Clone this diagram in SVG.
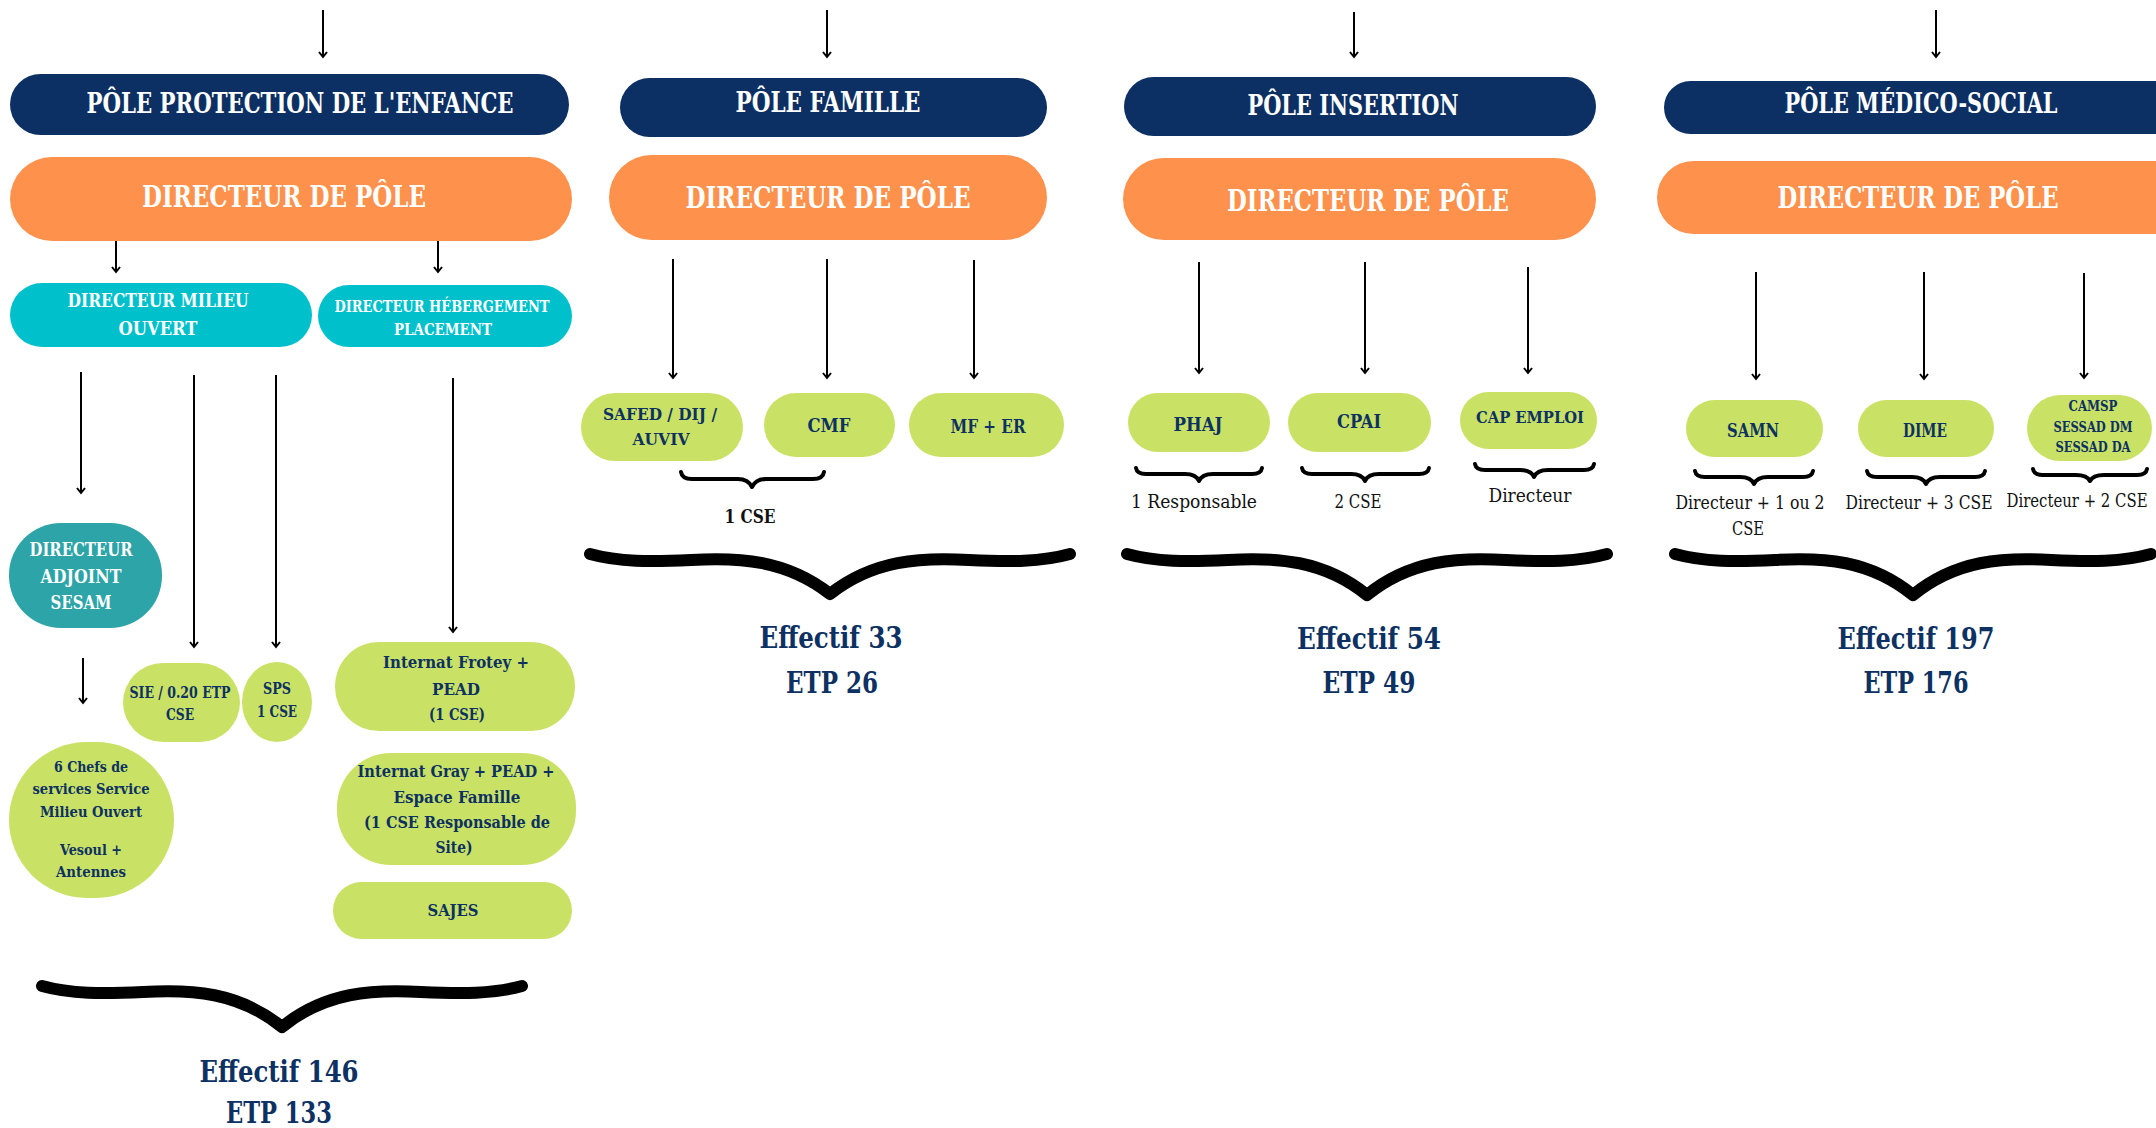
<svg xmlns="http://www.w3.org/2000/svg" width="2156" height="1128" viewBox="0 0 2156 1128">
<defs>
<style>
text{font-family:'DejaVu Serif Condensed','DejaVu Serif',serif;font-stretch:condensed;text-anchor:middle;font-weight:bold}
.w{fill:#ffffff}
.n{fill:#0d3162}
.k{fill:#111111;font-weight:normal}
.navy{fill:#0c3064}
.orange{fill:#fe914c}
.teal{fill:#00c1cb}
.dteal{fill:#2ca4a8}
.green{fill:#c9e265}
.ln{stroke:#000;stroke-width:2;fill:none}
.br{stroke:#000;stroke-width:4;fill:none;stroke-linecap:round;stroke-linejoin:round}
.bb{stroke:#000;stroke-width:12;fill:none;stroke-linecap:round;stroke-linejoin:round}
</style>
<marker id="ah" markerUnits="userSpaceOnUse" viewBox="-8 -6 10 12" refX="0" refY="0" markerWidth="10" markerHeight="12" orient="auto">
<path d="M-5,-4 L0,0 L-5,4" fill="none" stroke="#000" stroke-width="2"/>
</marker>
</defs>
<rect width="2156" height="1128" fill="#ffffff"/>

<g id="connectors">
<path class="ln" marker-end="url(#ah)" d="M323,10 V57"/>
<path class="ln" marker-end="url(#ah)" d="M827,10 V57"/>
<path class="ln" marker-end="url(#ah)" d="M1354,12 V57"/>
<path class="ln" marker-end="url(#ah)" d="M1936,10 V57"/>
<path class="ln" marker-end="url(#ah)" d="M116,241 V272"/>
<path class="ln" marker-end="url(#ah)" d="M438,241 V272"/>
<path class="ln" marker-end="url(#ah)" d="M81,372 V493"/>
<path class="ln" marker-end="url(#ah)" d="M194,375 V647"/>
<path class="ln" marker-end="url(#ah)" d="M276,375 V647"/>
<path class="ln" marker-end="url(#ah)" d="M453,378 V632"/>
<path class="ln" marker-end="url(#ah)" d="M83,658 V703"/>
<path class="ln" marker-end="url(#ah)" d="M673,259 V378"/>
<path class="ln" marker-end="url(#ah)" d="M827,259 V378"/>
<path class="ln" marker-end="url(#ah)" d="M974,260 V378"/>
<path class="ln" marker-end="url(#ah)" d="M1199,262 V373"/>
<path class="ln" marker-end="url(#ah)" d="M1365,262 V373"/>
<path class="ln" marker-end="url(#ah)" d="M1528,267 V373"/>
<path class="ln" marker-end="url(#ah)" d="M1756,272 V379"/>
<path class="ln" marker-end="url(#ah)" d="M1924,272 V379"/>
<path class="ln" marker-end="url(#ah)" d="M2084,273 V378"/>
</g>

<g id="braces">
<path class="br" d="M681,472 Q682,479 692,479 L738,479 Q748,479 752,487 Q756,479 766,479 L813,479 Q823,479 824,472"/>
<path class="br" d="M1136,468 Q1137,474 1146,474 L1185,474 Q1196,474 1199,481 Q1202,474 1213,474 L1252,474 Q1261,474 1262,468"/>
<path class="br" d="M1302,468 Q1303,474 1312,474 L1351,474 Q1362,474 1365,481 Q1368,474 1379,474 L1419,474 Q1428,474 1429,468"/>
<path class="br" d="M1475,464 Q1476,470 1485,470 L1520,470 Q1531,470 1534,477 Q1537,470 1548,470 L1584,470 Q1593,470 1594,464"/>
<path class="br" d="M1695,471 Q1696,477 1705,477 L1740,477 Q1751,477 1754,484 Q1757,477 1768,477 L1803,477 Q1812,477 1813,471"/>
<path class="br" d="M1867,471 Q1868,477 1877,477 L1912,477 Q1923,477 1926,484 Q1929,477 1940,477 L1975,477 Q1984,477 1985,471"/>
<path class="br" d="M2033,469 Q2034,475 2043,475 L2076,475 Q2087,475 2090,481 Q2093,475 2104,475 L2137,475 Q2146,475 2147,469"/>
<path class="bb" d="M42,986 C71,994 102,994 143,992 C191,989 239,992 282,1027 C325,992 373,989 421,992 C462,994 493,994 522,986"/>
<path class="bb" d="M590,554 C619,562 650,562 691,560 C739,557 787,560 830,594 C873,560 921,557 969,560 C1010,562 1041,562 1070,554"/>
<path class="bb" d="M1127,554 C1156,562 1187,562 1228,560 C1276,557 1324,560 1367,595 C1410,560 1458,557 1506,560 C1547,562 1578,562 1607,554"/>
<path class="bb" d="M1675,554 C1704,562 1735,562 1775,560 C1823,557 1870,560 1913,595 C1956,560 2003,557 2051,560 C2091,562 2122,562 2151,554"/>
</g>

<!-- Pôle Protection de l'enfance -->
<g id="pole-protection">
<rect class="navy" x="10" y="74" width="559" height="61" rx="30.5"/>
<text class="w" x="300" y="113" font-size="27" textLength="427" lengthAdjust="spacingAndGlyphs">PÔLE PROTECTION DE L'ENFANCE</text>
</g>
<g id="dir-protection">
<rect class="orange" x="10" y="157" width="562" height="84" rx="42"/>
<text class="w" x="284" y="207" font-size="29" textLength="284" lengthAdjust="spacingAndGlyphs">DIRECTEUR DE PÔLE</text>
</g>
<g id="dir-milieu-ouvert">
<rect class="teal" x="10" y="283" width="302" height="64" rx="32"/>
<text class="w" x="158" y="307" font-size="18" textLength="181" lengthAdjust="spacingAndGlyphs">DIRECTEUR MILIEU</text>
<text class="w" x="158" y="335" font-size="18" textLength="79" lengthAdjust="spacingAndGlyphs">OUVERT</text>
</g>
<g id="dir-hebergement">
<rect class="teal" x="318" y="285" width="254" height="62" rx="31"/>
<text class="w" x="442" y="312" font-size="16" textLength="215" lengthAdjust="spacingAndGlyphs">DIRECTEUR HÉBERGEMENT</text>
<text class="w" x="443" y="335" font-size="16" textLength="98" lengthAdjust="spacingAndGlyphs">PLACEMENT</text>
</g>
<g id="dir-adjoint-sesam">
<rect class="dteal" x="9" y="523" width="153" height="105" rx="52"/>
<text class="w" x="81" y="556" font-size="19" textLength="103" lengthAdjust="spacingAndGlyphs">DIRECTEUR</text>
<text class="w" x="81" y="583" font-size="19" textLength="81" lengthAdjust="spacingAndGlyphs">ADJOINT</text>
<text class="w" x="81" y="609" font-size="19" textLength="61" lengthAdjust="spacingAndGlyphs">SESAM</text>
</g>
<g id="sie">
<rect class="green" x="123" y="663" width="117" height="79" rx="40"/>
<text class="n" x="180" y="698" font-size="16" textLength="101" lengthAdjust="spacingAndGlyphs">SIE / 0.20 ETP</text>
<text class="n" x="180" y="720" font-size="16" textLength="28" lengthAdjust="spacingAndGlyphs">CSE</text>
</g>
<g id="sps">
<rect class="green" x="242" y="662" width="70" height="80" rx="35" ry="40"/>
<text class="n" x="277" y="694" font-size="16" textLength="28" lengthAdjust="spacingAndGlyphs">SPS</text>
<text class="n" x="277" y="717" font-size="16" textLength="40" lengthAdjust="spacingAndGlyphs">1 CSE</text>
</g>
<g id="internat-frotey">
<rect class="green" x="335" y="642" width="240" height="89" rx="44"/>
<text class="n" x="456" y="668" font-size="17" textLength="146" lengthAdjust="spacingAndGlyphs">Internat Frotey +</text>
<text class="n" x="456" y="695" font-size="17" textLength="48" lengthAdjust="spacingAndGlyphs">PEAD</text>
<text class="n" x="457" y="720" font-size="17" textLength="56" lengthAdjust="spacingAndGlyphs">(1 CSE)</text>
</g>
<g id="chefs-services">
<rect class="green" x="9" y="742" width="165" height="156" rx="78"/>
<text class="n" x="91" y="772" font-size="15.5" textLength="74" lengthAdjust="spacingAndGlyphs">6 Chefs de</text>
<text class="n" x="91" y="794" font-size="15.5" textLength="117" lengthAdjust="spacingAndGlyphs">services Service</text>
<text class="n" x="91" y="817" font-size="15.5" textLength="102" lengthAdjust="spacingAndGlyphs">Milieu Ouvert</text>
<text class="n" x="91" y="855" font-size="15.5" textLength="62" lengthAdjust="spacingAndGlyphs">Vesoul +</text>
<text class="n" x="91" y="877" font-size="15.5" textLength="70" lengthAdjust="spacingAndGlyphs">Antennes</text>
</g>
<g id="internat-gray">
<rect class="green" x="337" y="753" width="239" height="112" rx="54"/>
<text class="n" x="456" y="777" font-size="17" textLength="197" lengthAdjust="spacingAndGlyphs">Internat Gray + PEAD +</text>
<text class="n" x="457" y="803" font-size="17" textLength="127" lengthAdjust="spacingAndGlyphs">Espace Famille</text>
<text class="n" x="457" y="828" font-size="17" textLength="186" lengthAdjust="spacingAndGlyphs">(1 CSE Responsable de</text>
<text class="n" x="454" y="853" font-size="17" textLength="37" lengthAdjust="spacingAndGlyphs">Site)</text>
</g>
<g id="sajes">
<rect class="green" x="333" y="882" width="239" height="57" rx="28.5"/>
<text class="n" x="453" y="916" font-size="17" textLength="51" lengthAdjust="spacingAndGlyphs">SAJES</text>
</g>
<g id="total-protection">
<text class="n" x="279" y="1082" font-size="30" textLength="159" lengthAdjust="spacingAndGlyphs">Effectif 146</text>
<text class="n" x="279" y="1123" font-size="30" textLength="106" lengthAdjust="spacingAndGlyphs">ETP 133</text>
</g>

<!-- Pôle Famille -->
<g id="pole-famille">
<rect class="navy" x="620" y="78" width="427" height="59" rx="29.5"/>
<text class="w" x="828" y="112" font-size="27" textLength="185" lengthAdjust="spacingAndGlyphs">PÔLE FAMILLE</text>
</g>
<g id="dir-famille">
<rect class="orange" x="609" y="155" width="438" height="85" rx="42.5"/>
<text class="w" x="828" y="208" font-size="30" textLength="285" lengthAdjust="spacingAndGlyphs">DIRECTEUR DE PÔLE</text>
</g>
<g id="safed">
<rect class="green" x="581" y="393" width="162" height="68" rx="34"/>
<text class="n" x="660" y="420" font-size="17" textLength="114" lengthAdjust="spacingAndGlyphs">SAFED / DIJ /</text>
<text class="n" x="661" y="445" font-size="17" textLength="57" lengthAdjust="spacingAndGlyphs">AUVIV</text>
</g>
<g id="cmf">
<rect class="green" x="764" y="393" width="131" height="64" rx="32"/>
<text class="n" x="829" y="432" font-size="18" textLength="43" lengthAdjust="spacingAndGlyphs">CMF</text>
</g>
<g id="mf-er">
<rect class="green" x="909" y="393" width="155" height="64" rx="32"/>
<text class="n" x="988" y="433" font-size="18" textLength="75" lengthAdjust="spacingAndGlyphs">MF + ER</text>
</g>
<g id="label-famille">
<text class="k" style="font-weight:bold" x="750" y="523" font-size="19" textLength="51" lengthAdjust="spacingAndGlyphs">1 CSE</text>
</g>
<g id="total-famille">
<text class="n" x="831" y="648" font-size="30" textLength="143" lengthAdjust="spacingAndGlyphs">Effectif 33</text>
<text class="n" x="832" y="693" font-size="30" textLength="92" lengthAdjust="spacingAndGlyphs">ETP 26</text>
</g>

<!-- Pôle Insertion -->
<g id="pole-insertion">
<rect class="navy" x="1124" y="77" width="472" height="59" rx="29.5"/>
<text class="w" x="1353" y="115" font-size="28" textLength="211" lengthAdjust="spacingAndGlyphs">PÔLE INSERTION</text>
</g>
<g id="dir-insertion">
<rect class="orange" x="1123" y="158" width="473" height="82" rx="41"/>
<text class="w" x="1368" y="211" font-size="30" textLength="282" lengthAdjust="spacingAndGlyphs">DIRECTEUR DE PÔLE</text>
</g>
<g id="phaj">
<rect class="green" x="1128" y="393" width="142" height="59" rx="29.5"/>
<text class="n" x="1198" y="431" font-size="19" textLength="49" lengthAdjust="spacingAndGlyphs">PHAJ</text>
</g>
<g id="cpai">
<rect class="green" x="1288" y="393" width="143" height="59" rx="29.5"/>
<text class="n" x="1359" y="428" font-size="19" textLength="44" lengthAdjust="spacingAndGlyphs">CPAI</text>
</g>
<g id="cap-emploi">
<rect class="green" x="1460" y="392" width="137" height="57" rx="28.5"/>
<text class="n" x="1530" y="423" font-size="17" textLength="108" lengthAdjust="spacingAndGlyphs">CAP EMPLOI</text>
</g>
<g id="labels-insertion">
<text class="k" x="1194" y="508" font-size="19" textLength="126" lengthAdjust="spacingAndGlyphs">1 Responsable</text>
<text class="k" x="1358" y="508" font-size="19" textLength="47" lengthAdjust="spacingAndGlyphs">2 CSE</text>
<text class="k" x="1530" y="502" font-size="18" textLength="83" lengthAdjust="spacingAndGlyphs">Directeur</text>
</g>
<g id="total-insertion">
<text class="n" x="1369" y="649" font-size="30" textLength="144" lengthAdjust="spacingAndGlyphs">Effectif 54</text>
<text class="n" x="1369" y="693" font-size="30" textLength="93" lengthAdjust="spacingAndGlyphs">ETP 49</text>
</g>

<!-- Pôle Médico-social -->
<g id="pole-medico-social">
<rect class="navy" x="1664" y="81" width="540" height="53" rx="26.5"/>
<text class="w" x="1921" y="113" font-size="27" textLength="273" lengthAdjust="spacingAndGlyphs">PÔLE MÉDICO-SOCIAL</text>
</g>
<g id="dir-medico-social">
<rect class="orange" x="1657" y="161" width="550" height="73" rx="36.5"/>
<text class="w" x="1918" y="208" font-size="30" textLength="281" lengthAdjust="spacingAndGlyphs">DIRECTEUR DE PÔLE</text>
</g>
<g id="samn">
<rect class="green" x="1686" y="400" width="137" height="57" rx="28.5"/>
<text class="n" x="1753" y="437" font-size="18" textLength="52" lengthAdjust="spacingAndGlyphs">SAMN</text>
</g>
<g id="dime">
<rect class="green" x="1858" y="400" width="136" height="57" rx="28.5"/>
<text class="n" x="1925" y="437" font-size="18" textLength="44" lengthAdjust="spacingAndGlyphs">DIME</text>
</g>
<g id="camsp">
<rect class="green" x="2027" y="395" width="125" height="66" rx="33"/>
<text class="n" x="2093" y="411" font-size="14" textLength="49" lengthAdjust="spacingAndGlyphs">CAMSP</text>
<text class="n" x="2093" y="432" font-size="14" textLength="79" lengthAdjust="spacingAndGlyphs">SESSAD DM</text>
<text class="n" x="2093" y="452" font-size="14" textLength="75" lengthAdjust="spacingAndGlyphs">SESSAD DA</text>
</g>
<g id="labels-medico-social">
<text class="k" x="1750" y="509" font-size="18" textLength="149" lengthAdjust="spacingAndGlyphs">Directeur + 1 ou 2</text>
<text class="k" x="1748" y="535" font-size="18" textLength="32" lengthAdjust="spacingAndGlyphs">CSE</text>
<text class="k" x="1919" y="509" font-size="18" textLength="147" lengthAdjust="spacingAndGlyphs">Directeur + 3 CSE</text>
<text class="k" x="2077" y="507" font-size="18" textLength="141" lengthAdjust="spacingAndGlyphs">Directeur + 2 CSE</text>
</g>
<g id="total-medico-social">
<text class="n" x="1916" y="649" font-size="30" textLength="157" lengthAdjust="spacingAndGlyphs">Effectif 197</text>
<text class="n" x="1916" y="693" font-size="30" textLength="105" lengthAdjust="spacingAndGlyphs">ETP 176</text>
</g>
</svg>
